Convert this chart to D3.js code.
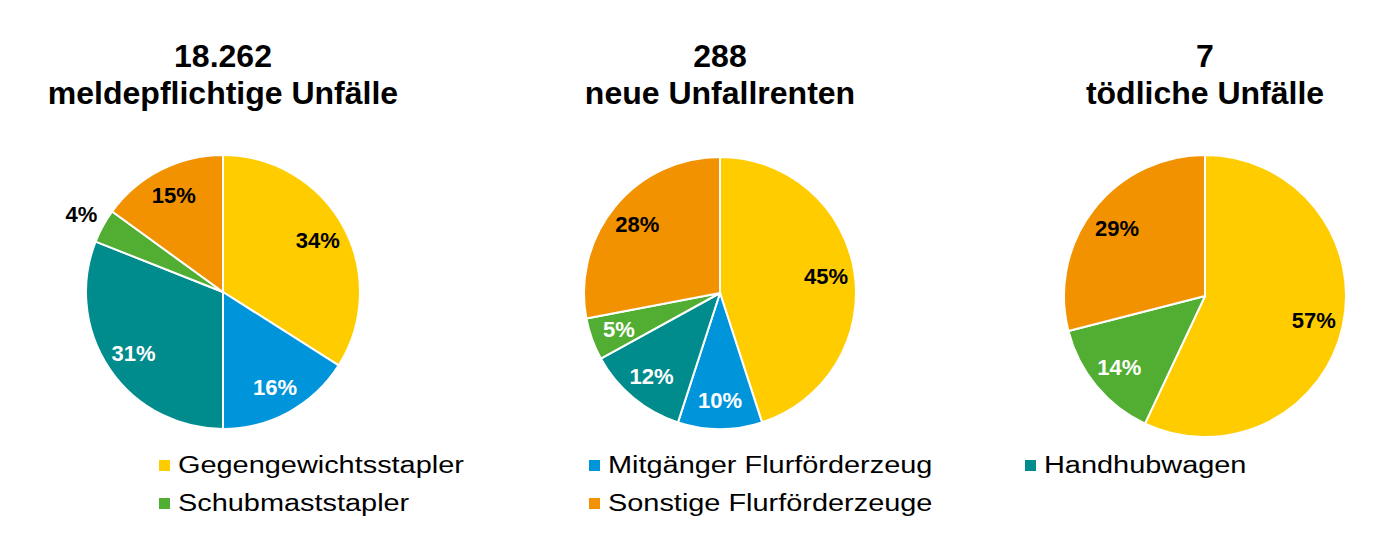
<!DOCTYPE html>
<html>
<head>
<meta charset="utf-8">
<script src="https://cdn.jsdelivr.net/npm/d3@7"></script>
<style>
  body { margin: 0; background: #fff; }
  svg { display: block; font-family: "Liberation Sans", Arial, sans-serif; }
</style>
</head>
<body>
<script>
// categories and colours (legend order)
let categories = ['Gegengewichtsstapler', 'Mitgänger Flurförderzeug', 'Handhubwagen', 'Schubmaststapler', 'Sonstige Flurförderzeuge']
let colors = ['#FFCC00', '#0095DB', '#008B8C', '#52AE32', '#F39200']
let labelColors = ['#000', '#fff', '#fff', '#fff', '#000']

// titles
let titleNumbers = ['18.262', '288', '7']
let titleTexts = ['meldepflichtige Unfälle', 'neue Unfallrenten', 'tödliche Unfälle']

// shares in percent, same order as categories
let unfaelle = [34, 16, 31, 4, 15]
let renten = [45, 10, 12, 5, 28]
let toedlich = [57, 0, 0, 14, 29]

let series = [unfaelle, renten, toedlich]

// layout of the three pies
let pies = [
  {cx: 223, cy: 292, r: 137},
  {cx: 720, cy: 293, r: 136},
  {cx: 1205, cy: 296, r: 141}
]

let svg = d3.select('body').append('svg').attr('width', 1400).attr('height', 548)

let pie = d3.pie().sort(null).value(function (d) { return d })

series.forEach(function (values, i) {
  let p = pies[i]
  let g = svg.append('g').attr('transform', 'translate(' + p.cx + ',' + p.cy + ')')

  let arc = d3.arc().innerRadius(0).outerRadius(p.r)
  let labelArc = d3.arc().innerRadius(p.r * 0.79).outerRadius(p.r * 0.79)
  let outerArc = d3.arc().innerRadius(p.r * 1.18).outerRadius(p.r * 1.18)

  let arcs = pie(values).map(function (d, k) { d.k = k; return d })

  g.selectAll('path').data(arcs.filter(function (d) { return d.value > 0 })).enter().append('path')
    .attr('d', arc)
    .attr('fill', function (d) { return colors[d.k] })
    .attr('stroke', '#fff')
    .attr('stroke-width', 2)
    .attr('stroke-linejoin', 'round')

  g.selectAll('text.lbl').data(arcs.filter(function (d) { return d.value > 0 })).enter().append('text')
    .attr('class', 'lbl')
    .attr('transform', function (d) {
      let c = d.value < 5 ? outerArc.centroid(d) : labelArc.centroid(d)
      return 'translate(' + c + ')'
    })
    .attr('text-anchor', 'middle')
    .attr('dy', '0.36em')
    .attr('font-size', 22)
    .attr('font-weight', 'bold')
    .attr('fill', function (d) { return d.value < 5 ? '#000' : labelColors[d.k] })
    .text(function (d) { return d.value + '%' })

  let t = svg.append('text')
    .attr('x', p.cx)
    .attr('text-anchor', 'middle')
    .attr('font-size', 32)
    .attr('font-weight', 'bold')
    .attr('fill', '#000')
  t.append('tspan').attr('x', p.cx).attr('y', 67).text(titleNumbers[i])
  t.append('tspan').attr('x', p.cx).attr('y', 104).text(titleTexts[i])
})

// legend: 3 columns, 2 rows
let legendCols = [159, 589, 1025]
let legendRows = [473, 511]

let legend = svg.append('g').selectAll('g').data(categories).enter().append('g')
  .attr('transform', function (d, i) {
    return 'translate(' + legendCols[i % 3] + ',' + legendRows[Math.floor(i / 3)] + ')'
  })

legend.append('rect')
  .attr('x', 0)
  .attr('y', -13)
  .attr('width', 11)
  .attr('height', 11)
  .attr('fill', function (d, i) { return colors[i] })

legend.append('text')
  .attr('transform', 'translate(19,0) scale(1.23,1)')
  .attr('font-size', 23.5)
  .attr('fill', '#000')
  .text(function (d) { return d })
</script>
</body>
</html>
